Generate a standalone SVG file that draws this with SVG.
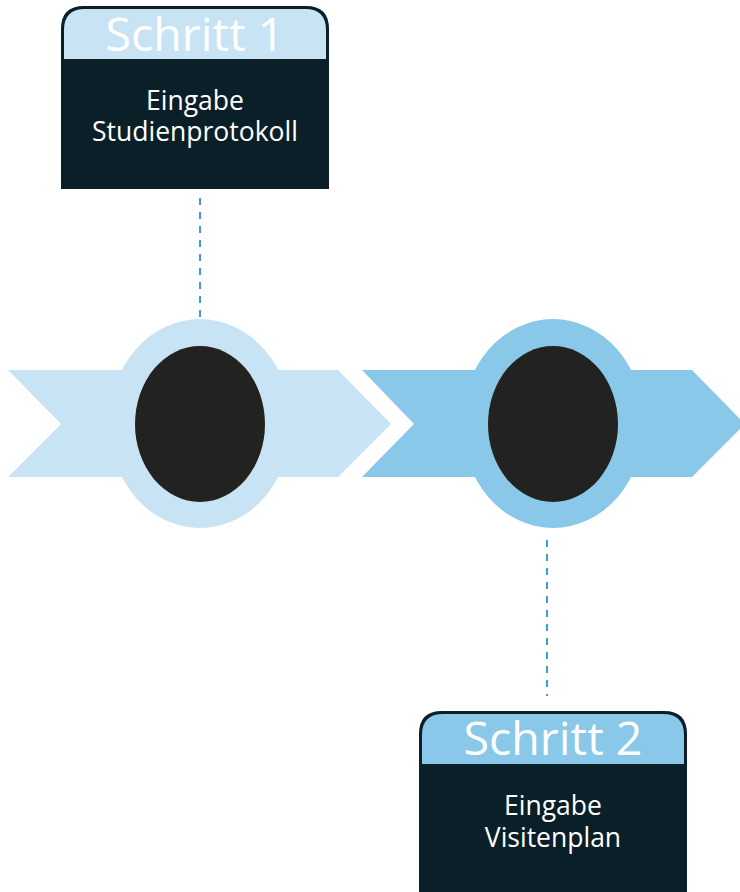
<svg xmlns="http://www.w3.org/2000/svg" width="740" height="892" viewBox="0 0 740 892">
  <defs>
    <style>
      .card { fill: #0b1f29; stroke: #0b1f29; stroke-width: 2; }
      .title { font-family: "Open Sans", "Liberation Sans", sans-serif; font-size: 46.5px; fill: #ffffff; text-anchor: middle; }
      .label { font-family: "Open Sans", "Liberation Sans", sans-serif; font-size: 26.5px; fill: #ffffff; text-anchor: middle; }
      .core { fill: #222220; }
      .link { stroke: #3a9fd6; stroke-width: 2; stroke-dasharray: 7 7; fill: none; }
    </style>
  </defs>
  <rect width="740" height="892" fill="#ffffff"/>

  <!-- timeline stage 1 -->
  <g id="stage1">
    <path d="M8,370 H338 L391,424 L338,477 H8 L61,424 Z" fill="#c8e4f4"/>
    <ellipse cx="200" cy="423.5" rx="91" ry="104.5" fill="#c8e4f4"/>
    <ellipse class="core" cx="200" cy="424" rx="65" ry="78"/>
  </g>

  <!-- timeline stage 2 -->
  <g id="stage2">
    <path d="M362,370 H692 L745,424 L692,477 H362 L414,424 Z" fill="#89c8e8"/>
    <ellipse cx="553" cy="423.5" rx="91" ry="104.5" fill="#89c8e8"/>
    <ellipse class="core" cx="553" cy="424" rx="65" ry="78"/>
  </g>

  <!-- dashed leaders from cards to stages -->
  <g id="connectors">
    <line class="link" x1="200" y1="198" x2="200" y2="320"/>
    <line class="link" x1="547" y1="540" x2="547" y2="696"/>
  </g>

  <!-- step card 1 -->
  <g id="card1">
    <path class="card" d="M62,188 V29 Q62,7 84,7 H306 Q328,7 328,29 V188 Z"/>
    <path d="M64,59 V30 Q64,9 85,9 H305 Q326,9 326,30 V59 Z" fill="#c8e4f4"/>
    <text class="title" x="195" y="51">Schritt 1</text>
    <text class="label" x="195" y="110">Eingabe</text>
    <text class="label" x="195" y="141">Studienprotokoll</text>
  </g>

  <!-- step card 2 -->
  <g id="card2">
    <path class="card" d="M420,900 V734 Q420,712 442,712 H664 Q686,712 686,734 V900 Z"/>
    <path d="M422,764 V735 Q422,714 443,714 H663 Q684,714 684,735 V764 Z" fill="#89c8e8"/>
    <text class="title" x="553" y="755">Schritt 2</text>
    <text class="label" x="553" y="815">Eingabe</text>
    <text class="label" x="553" y="847">Visitenplan</text>
  </g>
</svg>
